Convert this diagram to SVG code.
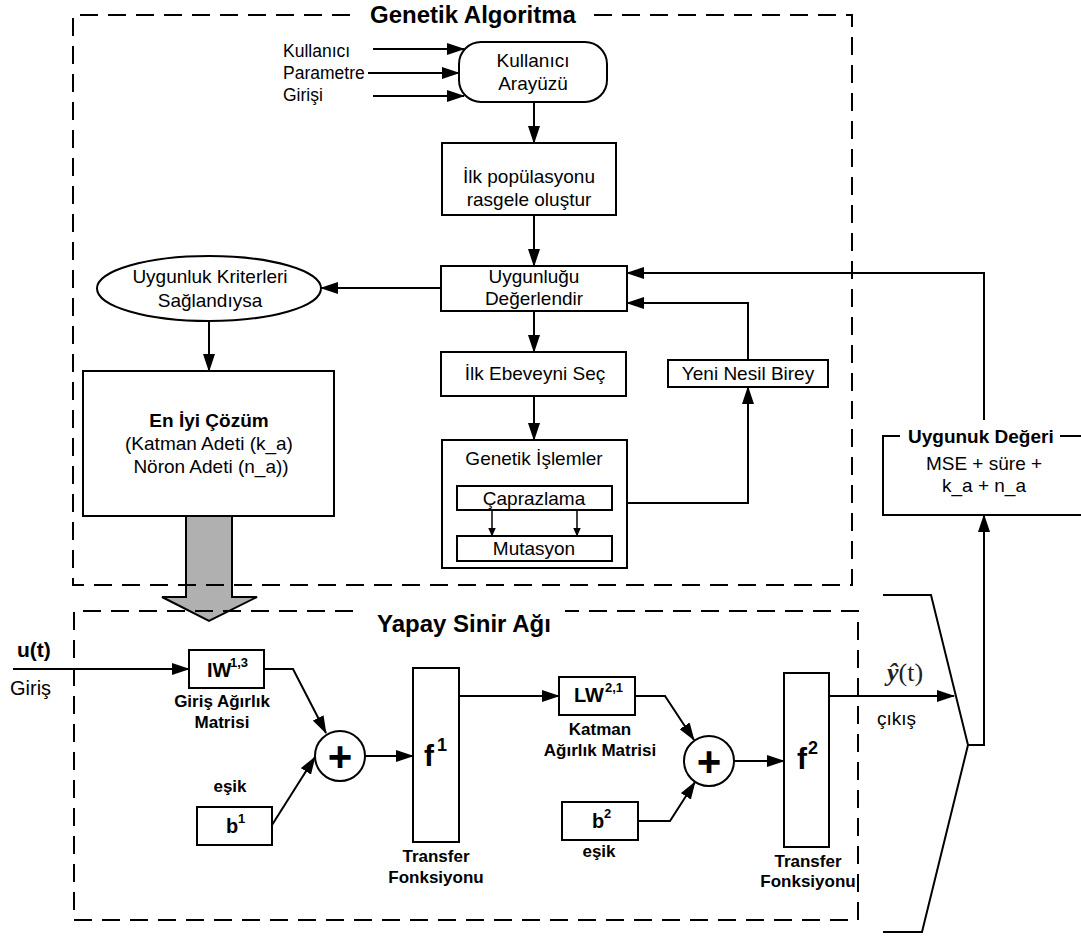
<svg xmlns="http://www.w3.org/2000/svg" width="1081" height="936" viewBox="0 0 1081 936">
<defs>
<style>
.ln{fill:none;stroke:#000;stroke-width:2}
.lns{fill:none;stroke:#000;stroke-width:1.5}
.a{marker-end:url(#ah)}
.as{marker-end:url(#ahs)}
.dash{fill:none;stroke:#000;stroke-width:2;stroke-dasharray:18 10}
.box{fill:#fff;stroke:#000;stroke-width:2}
.t{font-family:"Liberation Sans",Arial,sans-serif;font-size:19px;fill:#000}
.c{text-anchor:middle}
.b{font-weight:bold}
.lb{font-size:17px;font-weight:bold}
.ttl{font-size:24px;font-weight:bold}
.sym{font-size:20px;font-weight:bold}
.sup{font-size:13px;font-weight:bold}
.plus{font-size:42px;font-weight:bold;text-anchor:middle}
</style>
<marker id="ah" markerUnits="userSpaceOnUse" markerWidth="18" markerHeight="12" viewBox="0 0 18 12" refX="17" refY="6" orient="auto"><path d="M0,0 L18,6 L0,12 z" fill="#000"/></marker>
<marker id="ahs" markerUnits="userSpaceOnUse" markerWidth="9" markerHeight="8" viewBox="0 0 9 8" refX="8.5" refY="4" orient="auto"><path d="M0,0 L9,4 L0,8 z" fill="#000"/></marker>
</defs>
<rect width="1081" height="936" fill="#fff"/>

<g id="transfer-arrow">
<polygon points="186,516 232,516 232,597 257,597 209,621 162,597 186,597" fill="#b0b0b0" stroke="#000" stroke-width="2"/>
</g>

<g id="frame-ga">
<path class="dash" d="M350,15 H73 V585 H852 V15 H592"/>
<text class="t ttl" x="370" y="23">Genetik Algoritma</text>
</g>
<g id="frame-ysa">
<path class="dash" d="M353,611 H74 V920 H858 V611 H565"/>
<text class="t ttl" x="377" y="632">Yapay Sinir Ağı</text>
</g>

<g id="inputs">
<text class="t" x="283" y="57" style="font-size:17.5px">Kullanıcı</text>
<text class="t" x="283" y="79" style="font-size:17.5px">Parametre</text>
<text class="t" x="283" y="101" style="font-size:17.5px">Girişi</text>
</g>
<g id="kullanici-arayuzu">
<rect class="box" x="459" y="42" width="148" height="60" rx="22"/>
<text class="t c" x="533" y="67">Kullanıcı</text>
<text class="t c" x="533" y="90">Arayüzü</text>
</g>
<g id="ilk-populasyon">
<rect class="box" x="442" y="143" width="174" height="72"/>
<text class="t c" x="529" y="183">İlk popülasyonu</text>
<text class="t c" x="529" y="206">rasgele oluştur</text>
</g>
<g id="uygunlugu-degerlendir">
<rect class="box" x="441" y="266" width="186" height="45"/>
<text class="t c" x="534" y="283">Uygunluğu</text>
<text class="t c" x="534" y="305">Değerlendir</text>
</g>
<g id="uygunluk-kriterleri">
<ellipse class="box" cx="209" cy="288.5" rx="112" ry="32.5"/>
<text class="t c" x="210" y="283">Uygunluk Kriterleri</text>
<text class="t c" x="210" y="307">Sağlandıysa</text>
</g>
<g id="en-iyi-cozum">
<rect class="box" x="83" y="371" width="251" height="145"/>
<text class="t c b" x="209" y="427">En İyi Çözüm</text>
<text class="t c" x="209" y="450">(Katman Adeti (k_a)</text>
<text class="t c" x="211" y="473">Nöron Adeti (n_a))</text>
</g>
<g id="ilk-ebeveyni-sec">
<rect class="box" x="441" y="352" width="185" height="44"/>
<text class="t c" x="535" y="380">İlk Ebeveyni Seç</text>
</g>
<g id="genetik-islemler">
<rect class="box" x="442" y="440" width="185" height="128"/>
<text class="t c" x="534" y="465">Genetik İşlemler</text>
</g>
<g id="caprazlama">
<rect class="box" x="457" y="486" width="155" height="24"/>
<text class="t c" x="534" y="505">Çaprazlama</text>
</g>
<g id="mutasyon">
<rect class="box" x="457" y="536" width="155" height="25"/>
<text class="t c" x="534" y="555">Mutasyon</text>
</g>
<g id="yeni-nesil-birey">
<rect class="box" x="668" y="360" width="160" height="27"/>
<text class="t c" x="748" y="380">Yeni Nesil Birey</text>
</g>
<g id="uygunuk-degeri">
<path class="ln" d="M900,436 H883 V515 H1081 M1060,436 H1081"/>
<text class="t b" x="908" y="443">Uygunuk Değeri</text>
<text class="t c" x="984" y="470">MSE + süre +</text>
<text class="t c" x="984" y="492">k_a + n_a</text>
</g>

<g id="giris">
<text class="t b" x="17" y="657" style="font-size:21px">u(t)</text>
<text class="t" x="10" y="695" style="font-size:20px">Giriş</text>
</g>
<g id="iw">
<rect class="box" x="189" y="650" width="75" height="38"/>
<text class="t sym" x="207" y="677">IW</text>
<text class="t sup" x="230" y="667">1,3</text>
<text class="t c lb" x="222" y="707">Giriş Ağırlık</text>
<text class="t c lb" x="222" y="728">Matrisi</text>
</g>
<g id="b1">
<text class="t c lb" x="230" y="792">eşik</text>
<rect class="box" x="197" y="807" width="75" height="38"/>
<text class="t sym" x="226" y="833">b</text>
<text class="t sup" x="238" y="823">1</text>
</g>
<g id="sum1">
<circle class="box" cx="340" cy="756" r="25"/>
<text class="t plus" x="340" y="771">+</text>
</g>
<g id="f1">
<rect class="box" x="413" y="668" width="46" height="174"/>
<text class="t b" x="424" y="766" style="font-size:30px">f</text>
<text class="t b" x="437" y="751" style="font-size:18px">1</text>
<text class="t c lb" x="436" y="862">Transfer</text>
<text class="t c lb" x="436" y="883">Fonksiyonu</text>
</g>
<g id="lw">
<rect class="box" x="559" y="677" width="76" height="38"/>
<text class="t sym" x="574" y="702">LW</text>
<text class="t sup" x="605" y="692">2,1</text>
<text class="t c lb" x="600" y="735">Katman</text>
<text class="t c lb" x="600" y="756">Ağırlık Matrisi</text>
</g>
<g id="b2">
<rect class="box" x="562" y="802" width="76" height="38"/>
<text class="t sym" x="592" y="828">b</text>
<text class="t sup" x="604" y="818">2</text>
<text class="t c lb" x="599" y="857">eşik</text>
</g>
<g id="sum2">
<circle class="box" cx="709" cy="761" r="25"/>
<text class="t plus" x="709" y="776">+</text>
</g>
<g id="f2">
<rect class="box" x="784" y="673" width="45" height="174"/>
<text class="t b" x="797" y="769" style="font-size:30px">f</text>
<text class="t b" x="808" y="754" style="font-size:18px">2</text>
<text class="t c lb" x="808" y="867">Transfer</text>
<text class="t c lb" x="808" y="887">Fonksiyonu</text>
</g>
<g id="cikis">
<text x="887" y="681" style="font-family:'Liberation Serif','Times New Roman',serif;font-size:26px;fill:#222"><tspan font-weight="bold" font-style="italic">ŷ</tspan>(t)</text>
<text class="t" x="877" y="725">çıkış</text>
</g>

<g id="connectors">
<path class="ln a" d="M373,49 H464"/>
<path class="ln a" d="M368,73 H459"/>
<path class="ln a" d="M373,96 H464"/>
<path class="ln a" d="M534,102 V143"/>
<path class="ln a" d="M534,215 V266"/>
<path class="ln a" d="M441,288 H321"/>
<path class="ln a" d="M209,321 V371"/>
<path class="ln a" d="M534,311 V352"/>
<path class="ln a" d="M534,396 V440"/>
<path class="lns as" d="M492,511 V536"/>
<path class="lns as" d="M577,511 V536"/>
<path class="ln a" d="M627,503 H748 V387"/>
<path class="ln a" d="M748,360 V303 H627"/>
<path class="ln a" d="M984,420 V273 H627"/>
<path class="ln a" d="M968,745 H984 V515"/>
<path class="ln" d="M883,595 H931 L968,745 L922,932 H883"/>
<path class="ln a" d="M13,669 H189"/>
<path class="ln a" d="M264,669 H293 L326,733"/>
<path class="ln a" d="M272,825 L315,757"/>
<path class="ln a" d="M365,756 H413"/>
<path class="ln a" d="M459,696 H559"/>
<path class="ln a" d="M635,696 H665 L694,740"/>
<path class="ln a" d="M638,821 H670 L695,782"/>
<path class="ln a" d="M734,761 H784"/>
<path class="ln a" d="M829,696 H954"/>
</g>
</svg>
